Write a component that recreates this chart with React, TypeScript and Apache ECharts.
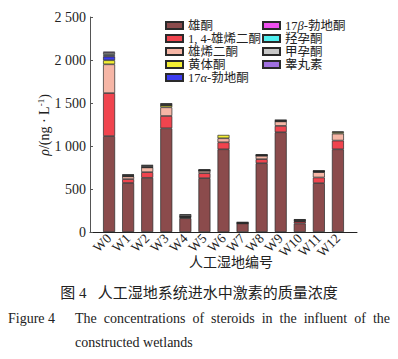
import React, { useEffect, useRef } from "react";
import * as echarts from "echarts";

const categories = ["W0", "W1", "W2", "W3", "W4", "W5", "W6", "W7", "W8", "W9", "W10", "W11", "W12"];
const yTickLabels = ["0", "500", "1 000", "1 500", "2 000", "2 500"];

const seriesNames = ["雄酮", "1, 4-雄烯二酮", "雄烯二酮", "黄体酮", "17α-勃地酮", "17β-勃地酮", "羟孕酮", "甲孕酮", "睾丸素"];

const androsterone = [1115, 570, 630, 1206, 160, 626, 962, 100, 800, 1160, 100, 568, 962];
const androstadienedione = [500, 45, 66, 143, 8, 58, 81, 0, 47, 74, 22, 66, 101];
const androstenedione = [335, 32, 55, 101, 6, 28, 47, 0, 40, 52, 6, 62, 81];
const progesterone = [47, 0, 0, 23, 0, 0, 39, 0, 0, 0, 0, 5, 18];
const boldenoneAlpha = [43, 0, 0, 0, 0, 0, 0, 0, 0, 0, 0, 0, 0];
const boldenoneBeta = [12, 3, 3, 3, 4, 2, 0, 2, 2, 3, 3, 2, 0];
const hydroxyprogesterone = [12, 3, 4, 3, 4, 2, 0, 2, 2, 3, 3, 2, 0];
const medroxyprogesterone = [20, 12, 16, 12, 18, 8, 0, 8, 8, 8, 10, 6, 6];
const testosterone = [14, 3, 3, 3, 4, 2, 0, 2, 2, 3, 3, 2, 0];

const seriesValues = [
  androsterone,
  androstadienedione,
  androstenedione,
  progesterone,
  boldenoneAlpha,
  boldenoneBeta,
  hydroxyprogesterone,
  medroxyprogesterone,
  testosterone,
];

const colors = ["#8b4b4c", "#f0444e", "#f6b6a6", "#f4ef33", "#3c3cf0", "#f050f0", "#50f0f0", "#c8c8c8", "#a070e0"];

const captionCn = "图 4   人工湿地系统进水中激素的质量浓度";
const captionEnLead = "Figure 4";
const captionEnLine1 = "The concentrations of steroids in the influent of the";
const captionEnLine2 = "constructed wetlands";

const SERIF = '"Liberation Serif", "Times New Roman", "Noto Sans CJK SC", serif';

function measure(text: string, size: number) {
  const c = document.createElement("canvas");
  const ctx = c.getContext("2d")!;
  ctx.font = `${size}px ${SERIF}`;
  return ctx.measureText(text).width;
}

export default function App() {
  const ref = useRef<HTMLDivElement>(null);
  useEffect(() => {
    if (!ref.current) return;
    const chart = echarts.init(ref.current, undefined, { renderer: "svg" });
    const legendFormatter = (name: string) =>
      name.replace("α", "{i|α}").replace("β", "{i|β}");
    const legendText = {
      fontFamily: SERIF,
      fontSize: 12.5,
      color: "#222",
      lineHeight: 13,
      rich: { i: { fontStyle: "italic", fontFamily: SERIF, fontSize: 12.5, color: "#222" } },
    };
    const legendCommon = {
      orient: "vertical" as const,
      itemWidth: 17,
      itemHeight: 7,
      itemGap: 0,
      icon: "rect",
      padding: 0,
      textStyle: legendText,
      formatter: legendFormatter,
      selectedMode: false,
    };
    const paddedCats = ["", ...categories, ""];

    // justified English caption line
    const words = captionEnLine1.split(" ");
    const fs = 14;
    const widths = words.map((w) => measure(w, fs));
    const startX = 75;
    const endX = 390;
    const total = widths.reduce((a, b) => a + b, 0);
    const gap = (endX - startX - total) / (words.length - 1);
    let cx = startX;
    const wordEls = words.map((w, i) => {
      const el = {
        type: "text",
        x: cx,
        y: 318,
        style: { text: w, fontFamily: SERIF, fontSize: fs, fill: "#222", align: "left", verticalAlign: "middle" },
      };
      cx += widths[i] + gap;
      return el;
    });

    chart.setOption({
      animation: false,
      grid: { left: 90, right: 41, top: 17, bottom: 127, containLabel: false },
      legend: [
        { ...legendCommon, left: 165, top: 19, data: seriesNames.slice(0, 5) },
        { ...legendCommon, left: 262, top: 19, data: seriesNames.slice(5) },
      ],
      xAxis: {
        type: "category",
        data: paddedCats,
        boundaryGap: false,
        axisLine: { show: true, lineStyle: { color: "#222", width: 1 } },
        axisTick: { show: false },
        axisLabel: {
          interval: 0,
          rotate: 45,
          fontFamily: SERIF,
          fontSize: 13.5,
          color: "#222",
          margin: 4,
        },
      },
      yAxis: {
        type: "value",
        min: 0,
        max: 2500,
        interval: 500,
        splitLine: { show: false },
        axisLine: { show: true, lineStyle: { color: "#555", width: 1 } },
        axisTick: { show: true, inside: true, length: 3, lineStyle: { color: "#555" } },
        axisLabel: {
          fontFamily: SERIF,
          fontSize: 14,
          color: "#222",
          margin: 4,
          formatter: (v: number) => yTickLabels[Math.round(v / 500)] ?? "",
        },
      },
      series: seriesNames.map((name, k) => ({
        name,
        type: "bar",
        stack: "total",
        barWidth: 12,
        itemStyle: { color: colors[k], borderColor: "#2a2a2a", borderWidth: 0.7 },
        data: ["-", ...seriesValues[k].map((v) => (v === 0 ? "-" : v)), "-"],
      })),
      graphic: [
        {
          type: "text",
          x: 44,
          y: 125,
          rotation: Math.PI / 2,
          style: {
            text: "{i|ρ}/(ng · L{s|-1})",
            fontFamily: SERIF,
            fontSize: 14,
            fill: "#222",
            align: "center",
            verticalAlign: "middle",
            rich: {
              i: { fontStyle: "italic", fontFamily: SERIF, fontSize: 14, fill: "#222" },
              s: { fontFamily: SERIF, fontSize: 9, fill: "#222", verticalAlign: "top", padding: [0, 0, 6, 0] },
            },
          },
        },
        {
          type: "text",
          x: 231,
          y: 262,
          style: {
            text: "人工湿地编号",
            fontFamily: SERIF,
            fontSize: 14,
            fill: "#222",
            align: "center",
            verticalAlign: "middle",
          },
        },
        {
          type: "text",
          x: 199,
          y: 293,
          style: {
            text: captionCn,
            fontFamily: SERIF,
            fontSize: 15,
            fill: "#222",
            align: "center",
            verticalAlign: "middle",
          },
        },
        {
          type: "text",
          x: 8,
          y: 318,
          style: {
            text: captionEnLead,
            fontFamily: SERIF,
            fontSize: 14,
            fill: "#222",
            align: "left",
            verticalAlign: "middle",
          },
        },
        ...wordEls,
        {
          type: "text",
          x: 75,
          y: 342,
          style: {
            text: captionEnLine2,
            fontFamily: SERIF,
            fontSize: 14,
            fill: "#222",
            align: "left",
            verticalAlign: "middle",
          },
        },
      ],
    });
    return () => chart.dispose();
  }, []);
  return (
    <div
      ref={ref}
      style={{ position: "fixed", left: 0, top: 0, width: 398, height: 359, background: "#fff" }}
    />
  );
}
